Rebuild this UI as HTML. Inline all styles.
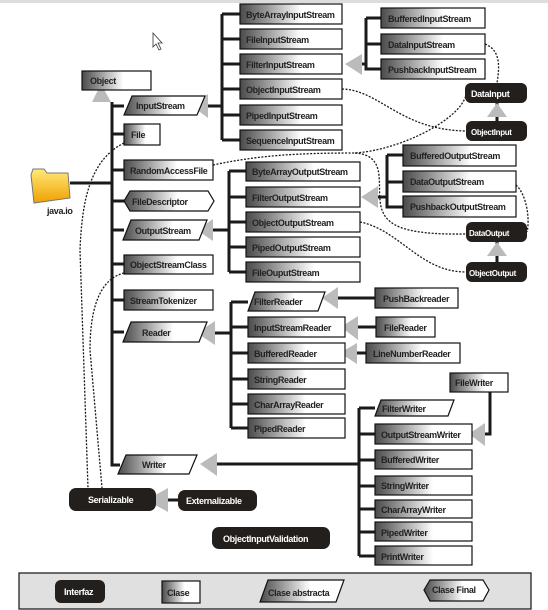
<!DOCTYPE html>
<html><head><meta charset="utf-8"><style>
html,body{margin:0;padding:0;background:#fff;}
svg{display:block;}
text{font-family:"Liberation Sans",sans-serif;font-weight:bold;font-size:9px;fill:#222;letter-spacing:-0.35px;}
.w{fill:#fff;}
</style></head><body>
<svg width="548" height="610" viewBox="0 0 548 610" xmlns="http://www.w3.org/2000/svg">
<defs>
<linearGradient id="g" x1="0" x2="1" y1="0" y2="0"><stop offset="0" stop-color="#4a4a4a"/><stop offset="0.6" stop-color="#fff"/></linearGradient>
<linearGradient id="f" x1="0" x2="0" y1="0" y2="1"><stop offset="0" stop-color="#ffe97a"/><stop offset="1" stop-color="#f0a000"/></linearGradient>
</defs>
<rect x="0" y="0" width="548" height="3" fill="#ddd"/>
<path d="M153,33 L153,47 L156,44 L159,50 L161,49 L158,43 L162,43 Z" fill="#fff" stroke="#333" stroke-width="0.8"/>

<g stroke="#1a1a1a" stroke-width="3" fill="none">
<path d="M112,102 V465 H120"/>
<path d="M112,106 H124 M112,134 H124 M112,170 H124 M112,201 H124 M112,230 H124 M112,264 H124 M112,300 H124 M112,332 H124"/>
<path d="M70,183 H112"/>
<path d="M208,106 H222 M222,14 V140 M222,14 H240 M222,39 H240 M222,64 H240 M222,89 H240 M222,115 H240 M222,140 H240"/>
<path d="M362,64 H366 M366,18 V69 H381 M366,18 H381 M366,44 H381"/>
<path d="M209,230 H229 M229,171 V272 M229,171 H246 M229,197 H246 M229,222 H246 M229,247 H246 M229,272 H246"/>
<path d="M378,197 H387 M387,155 V207 H403 M387,155 H403 M387,182 H403"/>
<path d="M215,333 H231 M231,302 V428 M231,302 H248 M231,327 H248 M231,353 H248 M231,379 H248 M231,404 H248 M231,428 H248"/>
<path d="M338,298 H375 M358,327 H376 M357,353 H366"/>
<path d="M217,464 H359 M359,408 V556 M359,408 H375 M359,434 H375 M359,460 H375 M359,486 H375 M359,509 H375 M359,532 H375 M359,556 H375"/>
<path d="M490,392 V434 H485"/>
<path d="M168,500 H178"/>
<path d="M497,103 V121 M497,242 V262"/>
</g>
<g stroke="#1a1a1a" stroke-width="1.3" fill="none" stroke-dasharray="2,1.5">
<path d="M485,44 C500,50 500,65 497,83"/>
<path d="M342,89 C380,90 400,130 466,131"/>
<path d="M213,165 C260,155 300,153 355,153 C400,150 460,120 466,95"/>
<path d="M355,153 C385,155 378,180 380,200 C382,225 400,235 466,234"/>
<path d="M516,185 C527,195 530,220 527,232"/>
<path d="M360,222 C400,230 420,272 466,272"/>
<path d="M124,143 C90,160 82,200 80,250 L88,488"/>
<path d="M124,273 C95,280 90,320 90,350 L102,488"/>
</g>
<g fill="#bbb">
<polygon points="101,84 92,102 111,102"/>
<polygon points="192,106 208,94 208,118"/>
<polygon points="345,64 362,54 362,75"/>
<polygon points="197,230 213,219 213,241"/>
<polygon points="361,197 378,186 378,208"/>
<polygon points="197,333 215,321 215,345"/>
<polygon points="322,298 338,287 338,309"/>
<polygon points="341,327 358,316 358,340"/>
<polygon points="340,353 357,343 357,364"/>
<polygon points="469,434 485,423 485,446"/>
<polygon points="200,464 217,453 217,476"/>
<polygon points="146,500 168,488 168,512"/>
<polygon points="497,103 487,117 507,117"/>
<polygon points="497,242 487,256 507,256"/>
</g>
<path d="M31,175 L33,169 L44,169 L47,173 L68,173 L70,198 L34,203 Z" fill="url(#f)" stroke="#777" stroke-width="1"/>
<text x="47" y="214">java.io</text>

<g stroke="#111" stroke-width="1.2" fill="url(#g)">
<rect x="82" y="71" width="69" height="19"/>
<polygon points="132,96 205,96 197,115 124,115"/>
<rect x="124" y="124" width="36" height="21"/>
<rect x="124" y="160" width="89" height="20"/>
<polygon points="130,191 208,191 214,201 208,211 130,211 124,201"/>
<polygon points="131,220 207,220 199,240 123,240"/>
<rect x="124" y="255" width="89" height="19"/>
<rect x="124" y="290" width="89" height="20"/>
<polygon points="131,322 207,322 199,342 123,342"/>
<polygon points="126,455 197,455 189,474 118,474"/>
<rect x="240" y="4" width="102" height="20"/>
<rect x="240" y="29" width="102" height="20"/>
<rect x="240" y="54" width="102" height="20"/>
<rect x="240" y="79" width="102" height="20"/>
<rect x="240" y="105" width="102" height="20"/>
<rect x="240" y="130" width="102" height="20"/>
<rect x="381" y="8" width="104" height="20"/>
<rect x="381" y="34" width="104" height="20"/>
<rect x="381" y="59" width="104" height="20"/>
<rect x="403" y="145" width="113" height="21"/>
<rect x="403" y="171" width="113" height="21"/>
<rect x="403" y="196" width="113" height="21"/>
<rect x="246" y="162" width="114" height="19"/>
<rect x="246" y="187" width="114" height="20"/>
<rect x="246" y="212" width="114" height="20"/>
<rect x="246" y="237" width="114" height="20"/>
<rect x="246" y="262" width="114" height="20"/>
<polygon points="255,292 325,292 318,311 248,311"/>
<rect x="248" y="317" width="97" height="20"/>
<rect x="248" y="343" width="97" height="20"/>
<rect x="248" y="369" width="97" height="20"/>
<rect x="248" y="394" width="97" height="20"/>
<rect x="248" y="418" width="97" height="20"/>
<rect x="375" y="288" width="83" height="20"/>
<rect x="376" y="317" width="59" height="20"/>
<rect x="366" y="343" width="94" height="20"/>
<rect x="450" y="373" width="58" height="19"/>
<polygon points="381,400 454,400 448,416 375,416"/>
<rect x="375" y="424" width="97" height="20"/>
<rect x="375" y="450" width="97" height="19"/>
<rect x="375" y="476" width="97" height="19"/>
<rect x="375" y="500" width="97" height="18"/>
<rect x="375" y="522" width="97" height="19"/>
<rect x="375" y="546" width="97" height="19"/>
</g>
<g>
<text x="90" y="84">Object</text>
<text x="136" y="109">InputStream</text>
<text x="131" y="138">File</text>
<text x="130" y="174">RandomAccessFile</text>
<text x="132" y="205">FileDescriptor</text>
<text x="135" y="234">OutputStream</text>
<text x="130" y="268">ObjectStreamClass</text>
<text x="130" y="304">StreamTokenizer</text>
<text x="142" y="336">Reader</text>
<text x="142" y="468">Writer</text>
<text x="246" y="18">ByteArrayInputStream</text>
<text x="246" y="43">FileInputStream</text>
<text x="246" y="68">FilterInputStream</text>
<text x="246" y="93">ObjectInputStream</text>
<text x="246" y="119">PipedInputStream</text>
<text x="246" y="144">SequenceInputStream</text>
<text x="388" y="22">BufferedInputStream</text>
<text x="388" y="48">DataInputStream</text>
<text x="388" y="73">PushbackInputStream</text>
<text x="410" y="159">BufferedOutputStream</text>
<text x="410" y="185">DataOutputStream</text>
<text x="410" y="210">PushbackOutputStream</text>
<text x="252" y="175">ByteArrayOutputStream</text>
<text x="252" y="201">FilterOutputStream</text>
<text x="252" y="226">ObjectOutputStream</text>
<text x="252" y="251">PipedOutputStream</text>
<text x="252" y="276">FileOuputStream</text>
<text x="254" y="305">FilterReader</text>
<text x="254" y="331">InputStreamReader</text>
<text x="254" y="357">BufferedReader</text>
<text x="254" y="383">StringReader</text>
<text x="254" y="408">CharArrayReader</text>
<text x="254" y="432">PipedReader</text>
<text x="383" y="302">PushBackreader</text>
<text x="384" y="331">FileReader</text>
<text x="373" y="357">LineNumberReader</text>
<text x="455" y="386">FileWriter</text>
<text x="382" y="412">FilterWriter</text>
<text x="381" y="438">OutputStreamWriter</text>
<text x="381" y="463">BufferedWriter</text>
<text x="381" y="489">StringWriter</text>
<text x="381" y="513">CharArrayWriter</text>
<text x="381" y="536">PipedWriter</text>
<text x="381" y="560">PrintWriter</text>
</g>
<g fill="#231f1c">
<rect x="465" y="83" width="62" height="20" rx="6"/>
<rect x="466" y="121" width="61" height="20" rx="6"/>
<rect x="466" y="222" width="61" height="20" rx="6"/>
<rect x="466" y="262" width="61" height="20" rx="6"/>
<rect x="69" y="488" width="87" height="23" rx="7"/>
<rect x="178" y="490" width="79" height="21" rx="7"/>
<rect x="212" y="527" width="118" height="22" rx="7"/>
</g>
<g>
<text class="w" x="471" y="97">DataInput</text>
<text class="w" x="471" y="135" style="font-size:8px">ObjectInput</text>
<text class="w" x="469" y="236" style="font-size:8px">DataOutput</text>
<text class="w" x="469" y="276" style="font-size:8px">ObjectOutput</text>
<text class="w" x="88" y="503">Serializable</text>
<text class="w" x="186" y="504">Externalizable</text>
<text class="w" x="223" y="542">ObjectInputValidation</text>
</g>
<rect x="19" y="573" width="512" height="36" fill="#e0e0e0" stroke="#222" stroke-width="1.3"/>
<rect x="55" y="580" width="50" height="23" rx="6" fill="#231f1c"/>
<text class="w" x="64" y="595">Interfaz</text>
<rect x="162" y="581" width="38" height="22" fill="url(#g)" stroke="#111" stroke-width="1.2"/>
<text x="167" y="596">Clase</text>
<polygon points="268,580 344,580 336,602 260,602" fill="url(#g)" stroke="#111" stroke-width="1.2"/>
<text x="268" y="596">Clase abstracta</text>
<polygon points="430,580 483,580 489,590 483,601 430,601 424,590" fill="url(#g)" stroke="#111" stroke-width="1.2"/>
<text x="432" y="593">Clase Final</text>
</svg>
</body></html>
